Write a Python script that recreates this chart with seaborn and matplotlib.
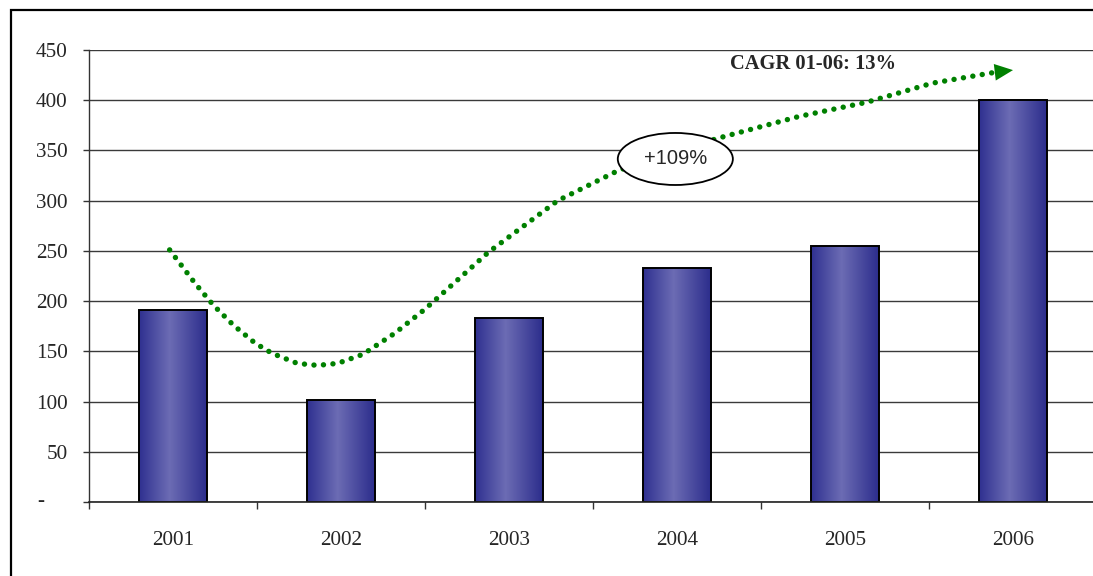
import numpy as np
import matplotlib
matplotlib.use("Agg")
import matplotlib.pyplot as plt
import seaborn as sns
from matplotlib.colors import LinearSegmentedColormap
from matplotlib.patches import Ellipse, Rectangle
import matplotlib.transforms as mtransforms

# ---- data ----
years = ["2001", "2002", "2003", "2004", "2005", "2006"]
values = [191, 102, 183, 233, 255, 400]
y_ticks = [0, 50, 100, 150, 200, 250, 300, 350, 400, 450]
y_tick_labels = ["", "50", "100", "150", "200", "250", "300", "350", "400", "450"]

# trend curve annotation (category position, value)
trend_x = [-0.02, 0.13, 0.24, 0.36, 0.49, 0.59, 0.74, 0.86, 0.98, 1.13, 1.32, 1.50,
           1.88, 2.29, 2.65, 3.24, 3.73, 4.13, 4.52, 4.90]
trend_y = [251, 218, 196, 176, 158, 148, 138, 136, 138, 147, 168, 192,
           249, 300, 330, 362, 384, 398, 417, 428]
arrow_tip = (5.0, 430)
cagr_label = "CAGR 01-06: 13%"
growth_label = "+109%"

# ---- style ----
sns.set_theme(style="white")
plt.rcParams["font.family"] = ["Liberation Serif", "DejaVu Serif"]

W, H = 1093, 576
FS = 15.2
fig = plt.figure(figsize=(W / 100, H / 100), dpi=100)
ax = fig.add_axes([89 / W, (H - 502) / H, (1097 - 89) / W, (502 - 50) / H])

sns.barplot(x=years, y=values, ax=ax, width=0.4, color="#4a4aa0",
            edgecolor="black", linewidth=1.4, saturation=1)

ax.set_xlim(-0.5, 5.5)
ax.set_ylim(0, 450)

# gradient fill on bars
cmap = LinearSegmentedColormap.from_list(
    "barg", [(0.0, "#2f3090"), (0.45, "#6c6cb4"), (1.0, "#2c2d8c")])
grad = np.linspace(0, 1, 256).reshape(1, -1)
for p in ax.patches:
    x0, y0 = p.get_x(), p.get_y()
    w, h = p.get_width(), p.get_height()
    im = ax.imshow(grad, cmap=cmap, aspect="auto", extent=[x0, x0 + w, y0, y0 + h],
                   zorder=1.5, interpolation="bilinear")
    im.set_clip_path(p)
    p.set_facecolor("none")
    p.set_zorder(2)
ax.set_xlim(-0.5, 5.5)
ax.set_ylim(0, 450)

# grid and spines
ax.set_axisbelow(True)
ax.yaxis.grid(True, color="#3a3a3a", linewidth=1.0)
ax.xaxis.grid(False)
for s in ["top", "right"]:
    ax.spines[s].set_visible(False)
ax.spines["left"].set_color("#333333")
ax.spines["left"].set_linewidth(1.0)
ax.spines["bottom"].set_color("#222222")
ax.spines["bottom"].set_linewidth(1.2)

ax.set_yticks(y_ticks)
ax.set_yticklabels(y_tick_labels)
ax.tick_params(axis="y", which="major", direction="out", length=4.5, width=1,
               color="#333333", pad=11, labelsize=FS, left=True)
ax.set_xticks(range(len(years)))
ax.set_xticklabels(years)
ax.set_xticks(np.arange(-0.5, 6.0, 1.0), minor=True)
ax.tick_params(axis="x", which="major", length=0, pad=21, labelsize=FS)
ax.tick_params(axis="x", which="minor", direction="out", length=5, width=1,
               color="#333333", bottom=True)
ax.set_xlabel("")
ax.set_ylabel("")

# "-" label for zero (accounting style)
trans = mtransforms.blended_transform_factory(ax.transAxes, ax.transData)
ax.text(-0.0476, 0, "-", transform=trans, ha="center", va="center", fontsize=FS,
        clip_on=False)

# dotted trend line with arrow head
ax.plot(trend_x, trend_y, color="#008000", linewidth=3.9,
        linestyle=(0, (0.01, 1.75)), dash_capstyle="round", zorder=3, clip_on=False)
ax.annotate("", xy=arrow_tip, xytext=(trend_x[-1], trend_y[-1]),
            arrowprops=dict(arrowstyle="-|>,head_length=1.1,head_width=0.5",
                            color="#008000", lw=0, shrinkA=0, shrinkB=0),
            zorder=3)

# ellipse with growth label
ell = Ellipse((2.99, 341.5), width=0.685, height=51.8, facecolor="white",
              edgecolor="black", linewidth=1.3, zorder=4)
ax.add_patch(ell)
ax.text(2.99, 341.5, growth_label, ha="center", va="center", fontsize=14.5,
        family=["Liberation Sans", "DejaVu Sans"], zorder=5)

ax.text(3.81, 436, cagr_label, ha="center", va="center", fontsize=14.8,
        fontweight="bold", zorder=5)

# outer frame
fig.add_artist(Rectangle((11 / W, -0.1), 2.0, (H - 10) / H + 0.1,
                         transform=fig.transFigure, fill=False,
                         edgecolor="black", linewidth=1.6))

fig.savefig("out.png", dpi=100)
